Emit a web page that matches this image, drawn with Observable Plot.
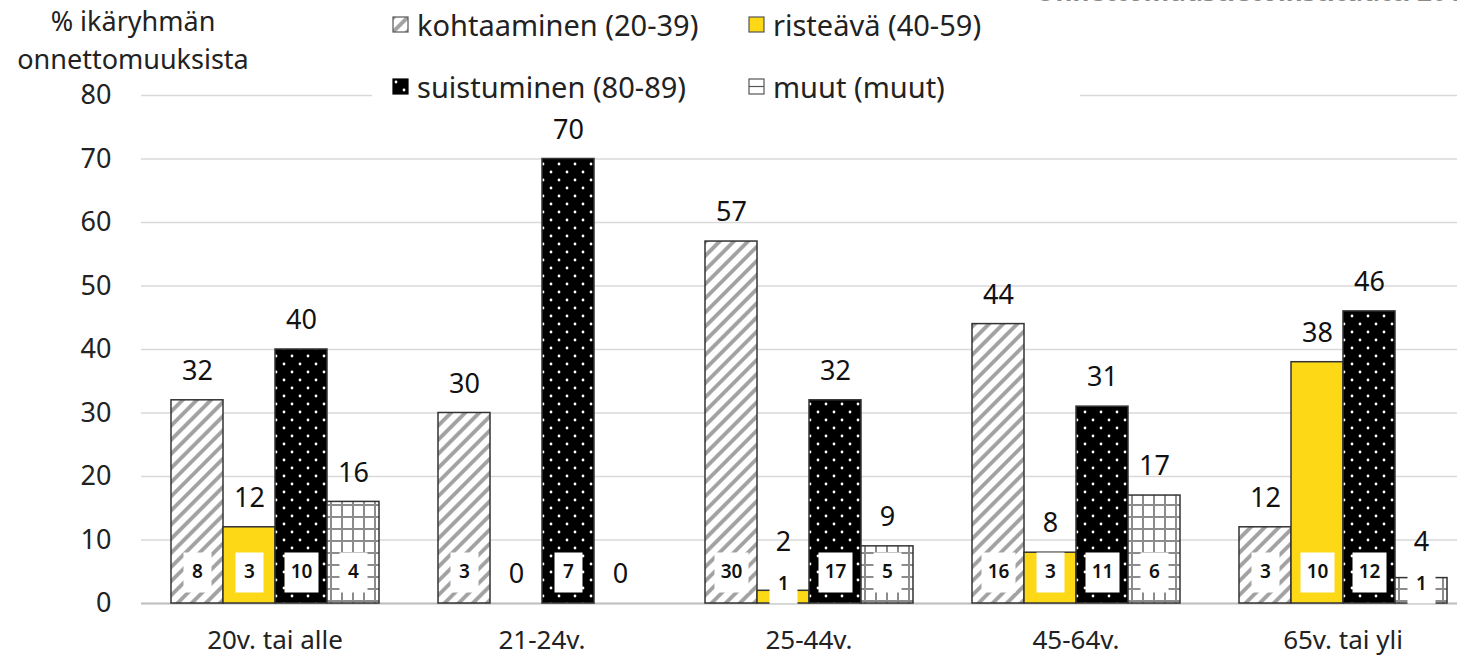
<!DOCTYPE html>
<html><head><meta charset="utf-8">
<script src="https://cdn.jsdelivr.net/npm/d3@7"></script>
<script src="https://cdn.jsdelivr.net/npm/@observablehq/plot@0.6"></script>
<style>
html,body{margin:0;padding:0;background:#fff;}
body{font-family:'Noto Sans',sans-serif;color:#222;}
#wrap{position:relative;width:1457px;height:666px;overflow:hidden;}
#ytitle{position:absolute;left:0;top:2px;width:266px;text-align:center;font-size:27px;line-height:38px;}
#legend{position:absolute;left:372px;top:0;width:708px;height:110px;background:#fff;font-size:29px;}
.li{position:absolute;display:flex;align-items:center;white-space:nowrap;}
.li svg{margin-right:8px;}
#source{position:absolute;left:1035px;top:-27px;font-size:26px;font-weight:bold;color:#8a8a8a;white-space:nowrap;z-index:2;}
</style></head>
<body>
<div id="wrap">
  <div id="chart"></div>
  <div id="ytitle">% ikäryhmän<br>onnettomuuksista</div>
  <div id="legend"></div>
  <div id="source">Onnettomuustietoinstituutti 2019</div>
</div>
<script>
const groups = ["20v. tai alle", "21-24v.", "25-44v.", "45-64v.", "65v. tai yli"];
const series = ["kohtaaminen (20-39)", "risteävä (40-59)", "suistuminen (80-89)", "muut (muut)"];
const kohtaaminen = [32, 30, 57, 44, 12];
const risteava = [12, 0, 2, 8, 38];
const suistuminen = [40, 70, 32, 31, 46];
const muut = [16, 0, 9, 17, 4];
const kohtaaminenN = [8, 3, 30, 16, 3];
const risteavaN = [3, null, 1, 3, 10];
const suistuminenN = [10, 7, 17, 11, 12];
const muutN = [4, null, 5, 6, 1];
const yTicks = [0, 10, 20, 30, 40, 50, 60, 70, 80];

const values = [kohtaaminen, risteava, suistuminen, muut];
const counts = [kohtaaminenN, risteavaN, suistuminenN, muutN];
const fills = {
  [series[0]]: "url(#pat-diag)",
  [series[1]]: "#FCD817",
  [series[2]]: "url(#pat-dots)",
  [series[3]]: "url(#pat-grid)"
};

const rows = groups.flatMap((g, i) => series.map((s, j) => ({
  group: g, series: s, value: values[j][i], n: counts[j][i]
})));
const inner = rows.filter(d => d.n != null);
const labelY = d => d.value < 5 ? 3.1 : 4.9;
// outer value label: keep clear of the inner count label on very short bars
const outerY = d => (d.n != null && d.value < 5) ? 5 : d.value;
const box1 = {draw(ctx) { ctx.rect(-14, -20, 28, 40); }};
const box2 = {draw(ctx) { ctx.rect(-17, -20, 34, 40); }};

const plot = Plot.plot({
  width: 1457, height: 666,
  marginLeft: 141, marginRight: -19, marginTop: 95, marginBottom: 63,
  style: {fontFamily: "'Noto Sans', sans-serif", fontSize: "26px", color: "#222", background: "white", overflow: "hidden"},
  fx: {domain: groups, paddingInner: 0, paddingOuter: 0, label: null},
  x: {domain: series, paddingInner: 0, paddingOuter: 0.567, axis: null},
  y: {domain: [0, 80], axis: null},
  color: {type: "identity"},
  marks: [
    Plot.gridY(yTicks, {stroke: "#d9d9d9", strokeOpacity: 1, strokeWidth: 1.5}),
    Plot.ruleY([0], {stroke: "#bfbfbf", strokeWidth: 2}),
    Plot.axisY({ticks: yTicks, tickSize: 0, tickPadding: 30, label: null, fontSize: 27}),
    Plot.barY(rows.filter(d => d.value > 0), {fx: "group", x: "series", y: "value", fill: d => fills[d.series], stroke: "#333", strokeWidth: 1.5}),
    Plot.dot(inner.filter(d => d.n < 10), {fx: "group", x: "series", y: labelY, symbol: box1, fill: "white"}),
    Plot.dot(inner.filter(d => d.n >= 10), {fx: "group", x: "series", y: labelY, symbol: box2, fill: "white"}),
    Plot.text(inner, {fx: "group", x: "series", y: labelY, text: d => String(d.n), fontSize: 19, fontWeight: 600, fill: "#111"}),
    Plot.text(rows, {fx: "group", x: "series", y: outerY, text: d => String(d.value), dy: -29, fontSize: 27, fill: "#111"}),
    Plot.axisFx({anchor: "bottom", tickSize: 0, tickPadding: 27, label: null, fontSize: 26})
  ]
});

const defs = `<defs>
<pattern id="pat-diag" patternUnits="userSpaceOnUse" width="10" height="10" patternTransform="rotate(45)">
  <rect width="10" height="10" fill="#fff"/>
  <line x1="2" y1="0" x2="2" y2="10" stroke="#a0a0a0" stroke-width="3.8"/>
</pattern>
<pattern id="pat-dots" patternUnits="userSpaceOnUse" width="16" height="16">
  <rect width="16" height="16" fill="#000"/>
  <circle cx="4" cy="4" r="1.4" fill="#fff"/>
  <circle cx="12" cy="12" r="1.4" fill="#fff"/>
</pattern>
<pattern id="pat-grid" patternUnits="userSpaceOnUse" width="11" height="12">
  <rect width="11" height="12" fill="#fff"/>
  <line x1="1" y1="0" x2="1" y2="12" stroke="#8c8c8c" stroke-width="2"/>
  <line x1="0" y1="1" x2="11" y2="1" stroke="#8c8c8c" stroke-width="2"/>
</pattern>
</defs>`;
plot.insertAdjacentHTML("afterbegin", defs);
document.getElementById("chart").appendChild(plot);

// legend
const legendPos = [[20, 24], [376, 24], [20, 86], [376, 86]];
const swatch = [
  `<rect x="1" y="1" width="15" height="15" fill="url(#pat-diag)" stroke="#555" stroke-width="1.2"/>`,
  `<rect x="1" y="1" width="15" height="15" fill="#FCD817" stroke="#555" stroke-width="1.2"/>`,
  `<rect x="1" y="1" width="15" height="15" fill="url(#pat-dots)" stroke="#000" stroke-width="1.2"/>`,
  `<rect x="1" y="1" width="15" height="15" fill="#fff" stroke="#555" stroke-width="1.2"/><line x1="1" y1="8.5" x2="16" y2="8.5" stroke="#555" stroke-width="1.2"/>`
];
const leg = document.getElementById("legend");
series.forEach((s, j) => {
  const el = document.createElement("div");
  el.className = "li";
  el.style.left = legendPos[j][0] + "px";
  el.style.top = (legendPos[j][1] - 18) + "px";
  el.style.height = "36px";
  el.innerHTML = `<svg width="17" height="17">${swatch[j]}</svg><span>${s}</span>`;
  leg.appendChild(el);
});
</script>
</body></html>
